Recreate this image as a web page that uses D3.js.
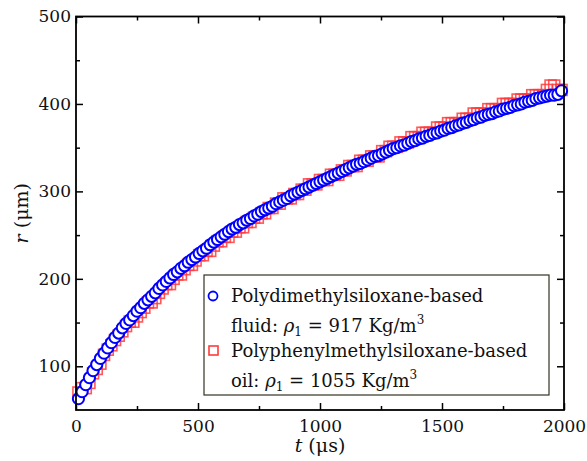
<!DOCTYPE html>
<meta charset="utf-8">
<script src="https://d3js.org/d3.v7.min.js"></script>
<style>
  body { margin: 0; background: #fff; }
  text { font-family: "DejaVu Serif", serif; }
</style>
<div id="my_dataviz"></div>
<script>

// time (microseconds) of each frame
var timeUs = [10, 25, 40, 55, 70, 85, 100, 115, 130, 145,
  160, 175, 190, 205, 220, 235, 250, 265, 280, 295,
  310, 325, 340, 355, 370, 385, 400, 415, 430, 445,
  460, 475, 490, 505, 520, 535, 550, 565, 580, 595,
  610, 625, 640, 655, 670, 685, 700, 715, 730, 745,
  760, 775, 790, 805, 820, 835, 850, 865, 880, 895,
  910, 925, 940, 955, 970, 985, 1000, 1015, 1030, 1045,
  1060, 1075, 1090, 1105, 1120, 1135, 1150, 1165, 1180, 1195,
  1210, 1225, 1240, 1255, 1270, 1285, 1300, 1315, 1330, 1345,
  1360, 1375, 1390, 1405, 1420, 1435, 1450, 1465, 1480, 1495,
  1510, 1525, 1540, 1555, 1570, 1585, 1600, 1615, 1630, 1645,
  1660, 1675, 1690, 1705, 1720, 1735, 1750, 1765, 1780, 1795,
  1810, 1825, 1840, 1855, 1870, 1885, 1900, 1915, 1930, 1945,
  1960, 1975, 1990];

// radius, polydimethylsiloxane-based fluid (blue circles)
var rPdms = [63, 71, 79, 87, 95, 102, 109, 115, 121, 127,
  133, 138, 144, 149, 153, 158, 163, 167, 172, 176,
  180, 184, 189, 193, 197, 201, 205, 208, 212, 215,
  219, 222, 225, 229, 232, 235, 239, 242, 245, 248,
  251, 254, 257, 259, 262, 264, 267, 269, 272, 274,
  277, 279, 281, 283, 286, 288, 290, 292, 295, 297,
  299, 301, 303, 305, 307, 309, 311, 313, 315, 317,
  319, 321, 323, 325, 327, 329, 331, 332, 334, 336,
  338, 340, 341, 343, 345, 347, 349, 350, 352, 353,
  355, 357, 358, 360, 361, 363, 364, 366, 367, 369,
  370, 372, 373, 375, 376, 378, 379, 381, 382, 384,
  385, 387, 388, 389, 391, 392, 394, 395, 396, 398,
  399, 400, 402, 403, 404, 406, 407, 408, 409, 410,
  410, 411, 415];

// radius, polyphenylmethylsiloxane-based oil (red squares)
var rPpms = [70, 75, 75, 81, 92, 97, 103, 113, 119, 124,
  130, 135, 140, 146, 151, 151, 157, 162, 167, 173,
  173, 178, 184, 189, 194, 194, 200, 205, 205, 211,
  216, 216, 221, 227, 227, 232, 232, 238, 243, 243,
  248, 248, 254, 254, 259, 259, 265, 265, 270, 270,
  275, 275, 281, 281, 286, 286, 292, 292, 292, 297,
  297, 302, 302, 308, 308, 308, 313, 313, 313, 319,
  319, 319, 324, 324, 329, 329, 329, 335, 335, 335,
  340, 340, 340, 346, 346, 351, 351, 351, 356, 356,
  356, 362, 362, 362, 367, 367, 367, 367, 373, 373,
  373, 378, 378, 378, 378, 383, 383, 383, 389, 389,
  389, 389, 394, 394, 394, 394, 400, 400, 400, 400,
  405, 405, 405, 405, 410, 410, 410, 410, 416, 421,
  421, 416, 416];

var xTicks = [0, 500, 1000, 1500, 2000];
var xMinor = [250, 750, 1250, 1750];
var yTicks = [100, 200, 300, 400, 500];
var yMinor = [150, 250, 350, 450];

var margin = {top: 16.5, right: 23, bottom: 51, left: 76},
    width = 587 - margin.left - margin.right,
    height = 461 - margin.top - margin.bottom;

var svg = d3.select("#my_dataviz")
  .append("svg")
    .attr("width", width + margin.left + margin.right)
    .attr("height", height + margin.top + margin.bottom)
  .append("g")
    .attr("transform", "translate(" + margin.left + "," + margin.top + ")");

var x = d3.scaleLinear().domain([0, 2000]).range([0, width]);
var y = d3.scaleLinear().domain([50, 500]).range([height, 0]);

function styleAxis(g) {
  g.select(".domain").remove();
  g.selectAll("line").attr("stroke", "#000").attr("stroke-width", 1.5);
  g.selectAll("text").attr("font-size", 17).attr("fill", "#111")
    .style("font-family", "DejaVu Serif");
}

// major axes with labels
svg.append("g")
  .attr("transform", "translate(0," + height + ")")
  .call(d3.axisBottom(x).tickValues(xTicks).tickFormat(d3.format("d"))
    .tickSizeInner(-7).tickSizeOuter(0).tickPadding(10))
  .call(styleAxis);
svg.append("g")
  .call(d3.axisLeft(y).tickValues(yTicks).tickFormat(d3.format("d"))
    .tickSizeInner(-7).tickSizeOuter(0).tickPadding(5))
  .call(styleAxis);
// top / right mirrors
svg.append("g")
  .call(d3.axisTop(x).tickValues(xTicks).tickSizeInner(-7).tickSizeOuter(0).tickFormat(""))
  .call(styleAxis);
svg.append("g")
  .attr("transform", "translate(" + width + ",0)")
  .call(d3.axisRight(y).tickValues(yTicks).tickSizeInner(-7).tickSizeOuter(0).tickFormat(""))
  .call(styleAxis);
// minor ticks
svg.append("g")
  .attr("transform", "translate(0," + height + ")")
  .call(d3.axisBottom(x).tickValues(xMinor).tickSizeInner(-4).tickSizeOuter(0).tickFormat(""))
  .call(styleAxis);
svg.append("g")
  .call(d3.axisTop(x).tickValues(xMinor).tickSizeInner(-4).tickSizeOuter(0).tickFormat(""))
  .call(styleAxis);
svg.append("g")
  .call(d3.axisLeft(y).tickValues(yMinor).tickSizeInner(-4).tickSizeOuter(0).tickFormat(""))
  .call(styleAxis);
svg.append("g")
  .attr("transform", "translate(" + width + ",0)")
  .call(d3.axisRight(y).tickValues(yMinor).tickSizeInner(-4).tickSizeOuter(0).tickFormat(""))
  .call(styleAxis);

// red squares (drawn under the circles)
var sq = 11;
svg.selectAll("rect.ppms")
  .data(timeUs)
  .enter()
  .append("rect")
    .attr("class", "ppms")
    .attr("x", function(d) { return x(d) - sq / 2; })
    .attr("y", function(d, i) { return y(rPpms[i]) - sq / 2; })
    .attr("width", sq)
    .attr("height", sq)
    .attr("fill", "none")
    .attr("stroke", "#ff3b3b")
    .attr("stroke-opacity", 0.85)
    .attr("stroke-width", 1.6);

// blue circles
svg.selectAll("circle.pdms")
  .data(timeUs)
  .enter()
  .append("circle")
    .attr("class", "pdms")
    .attr("cx", function(d) { return x(d); })
    .attr("cy", function(d, i) { return y(rPdms[i]); })
    .attr("r", 5.6)
    .attr("fill", "#fff")
    .attr("stroke", "#0000ff")
    .attr("stroke-width", 2);

// frame
svg.append("rect")
  .attr("width", width)
  .attr("height", height)
  .attr("fill", "none")
  .attr("stroke", "#000")
  .attr("stroke-width", 1.8);

// axis titles
var xt = svg.append("text")
  .attr("x", width / 2)
  .attr("y", height + 42)
  .attr("text-anchor", "middle")
  .attr("font-size", 19)
  .attr("fill", "#111");
xt.append("tspan").attr("font-style", "italic").text("t");
xt.append("tspan").text(" (μs)");

var yt = svg.append("text")
  .attr("transform", "translate(-48," + (height / 2) + ")rotate(-90)")
  .attr("text-anchor", "middle")
  .attr("font-size", 19)
  .attr("fill", "#111");
yt.append("tspan").attr("font-style", "italic").text("r");
yt.append("tspan").text(" (μm)");

// legend
var lg = svg.append("g").attr("transform", "translate(" + (204 - margin.left) + "," + (275 - margin.top) + ")");
lg.append("rect")
  .attr("width", 345)
  .attr("height", 120)
  .attr("fill", "#fff")
  .attr("stroke", "#333322")
  .attr("stroke-width", 1.2);
lg.append("circle")
  .attr("cx", 9).attr("cy", 21).attr("r", 4.5)
  .attr("fill", "#fff").attr("stroke", "#0000ff").attr("stroke-width", 1.8);
lg.append("rect")
  .attr("x", 5).attr("y", 71).attr("width", 9).attr("height", 9)
  .attr("fill", "none").attr("stroke", "#ff3b3b").attr("stroke-width", 1.6);

function legendLine(yy, parts) {
  var t = lg.append("text").attr("x", 27).attr("y", yy).attr("font-size", 18).attr("fill", "#111");
  parts.forEach(function(p) {
    var s = t.append("tspan").text(p.t);
    if (p.i) s.attr("font-style", "italic");
    if (p.sub) s.attr("font-size", 12).attr("dy", 4);
    if (p.sup) s.attr("font-size", 12).attr("dy", -8);
    if (p.back) s.attr("dy", p.back);
  });
}
legendLine(27, [{t: "Polydimethylsiloxane-based"}]);
legendLine(57, [{t: "fluid: "}, {t: "ρ", i: true}, {t: "1", sub: true}, {t: " = 917 Kg/m", back: -4}, {t: "3", sup: true}]);
legendLine(82, [{t: "Polyphenylmethylsiloxane-based"}]);
legendLine(112, [{t: "oil: "}, {t: "ρ", i: true}, {t: "1", sub: true}, {t: " = 1055 Kg/m", back: -4}, {t: "3", sup: true}]);

</script>
